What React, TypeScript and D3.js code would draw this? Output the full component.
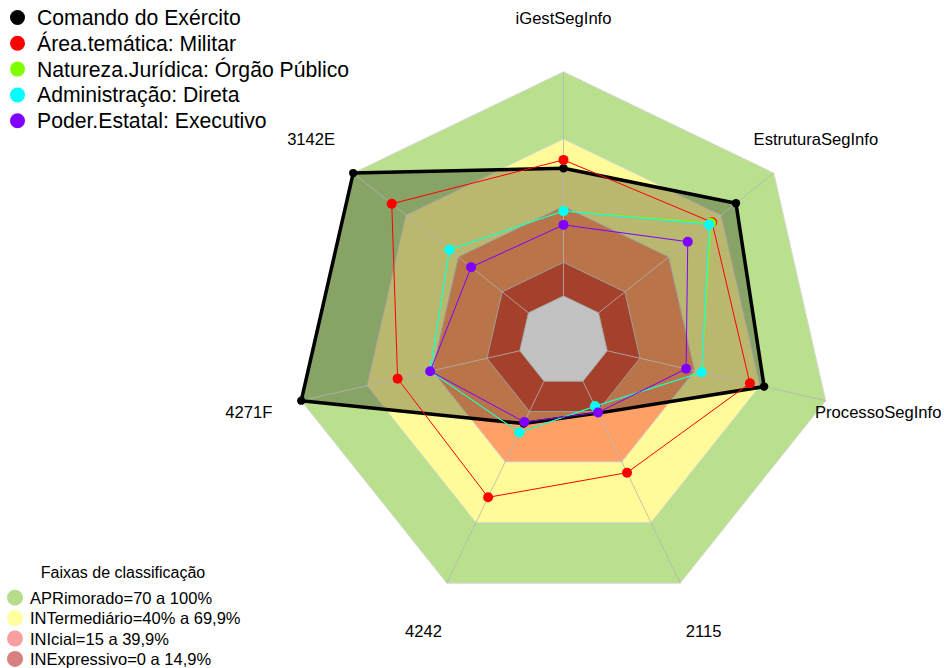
import React from 'react';
import * as d3 from 'd3';

// ---------- data ----------
const categories = ['iGestSegInfo', 'EstruturaSegInfo', 'ProcessoSegInfo', '2115', '4242', '4271F', '3142E'];

const seriesNames = [
  'Comando do Exército',
  'Área.temática: Militar',
  'Natureza.Jurídica: Órgão Público',
  'Administração: Direta',
  'Poder.Estatal: Executivo',
];
const seriesColors = ['#000000', '#FF0000', '#7FFF00', '#00FFFF', '#7F00FF'];

const comandoExercito = [57.0, 78.4, 71.8, 15.8, 21.0, 100, 100];
const areaMilitar = [60.7, 64.8, 65.3, 45.3, 57.5, 55.9, 78.0];
const orgaoPublico = [37.9, 64.2, 43.2, 12.4, 25.4, 41.0, 45.1];
const adminDireta = [37.9, 63.1, 43.2, 12.4, 25.4, 41.0, 45.1];
const poderExecutivo = [31.7, 50.9, 36.1, 15.5, 20.2, 41.0, 32.7];

const bandValues = [100, 70, 40, 15];
const bandColors = ['#B9E08D', '#FFFB98', '#FFA066', '#E2583C'];
const bandLabels = ['APRimorado=70 a 100%', 'INTermediário=40% a 69,9%', 'INIcial=15 a 39,9%', 'INExpressivo=0 a 14,9%'];
const bandLegendColors = ['#B5DD8A', '#FFFFA0', '#F7A0A0', '#D88080'];
const bandLegendTitle = 'Faixas de classificação';

// ---------- layout ----------
const W = 944;
const H = 668;
const cx = 563.5;
const cy = 340.8;
const R = 269;
const seg = 5;
const FONT = "'Liberation Sans', Arial, sans-serif";

const rScale = d3.scaleLinear().domain([0, 100]).range([R / (seg + 1), R]);
const angle = (i: number) => (i * 2 * Math.PI) / categories.length;
const px = (i: number, r: number) => cx + r * Math.sin(angle(i));
const py = (i: number, r: number) => cy - r * Math.cos(angle(i));

const lineGen = d3
  .line<number>()
  .x((v, i) => px(i, rScale(v)))
  .y((v, i) => py(i, rScale(v)))
  .curve(d3.curveLinearClosed);

const ringPath = (r: number) =>
  d3
    .line<number>()
    .x((_, i) => px(i, r))
    .y((_, i) => py(i, r))
    .curve(d3.curveLinearClosed)(categories.map(() => 0)) as string;

export default function App() {
  React.useEffect(() => {
    document.body.style.margin = '0';
  }, []);

  const allSeries = [comandoExercito, areaMilitar, orgaoPublico, adminDireta, poderExecutivo];

  return (
    <svg width={W} height={H} style={{ display: 'block', position: 'absolute', left: 0, top: 0 }} fontFamily={FONT}>
      <rect x={0} y={0} width={W} height={H} fill="#FFFFFF" />
      {/* bands */}
      {bandValues.map((b, k) => (
        <path
          key={'band' + k}
          d={lineGen(categories.map(() => b)) as string}
          fill={bandColors[k]}
          stroke="#D8D8D8"
          strokeWidth={1}
        />
      ))}
      {/* first series fill overlay */}
      <path d={lineGen(comandoExercito) as string} fill="rgba(0,0,0,0.27)" stroke="none" />
      {/* center */}
      <path d={ringPath(rScale(0))} fill="#C2C2C2" stroke="#A8A8A8" strokeWidth={1} />
      {/* radial axes */}
      {categories.map((c, i) => (
        <line
          key={'ax' + i}
          x1={px(i, rScale(0))}
          y1={py(i, rScale(0))}
          x2={px(i, R)}
          y2={py(i, R)}
          stroke="#B4B4B4"
          strokeOpacity={0.8}
          strokeWidth={1}
        />
      ))}
      {/* series */}
      {allSeries.map((s, k) => (
        <g key={'s' + k}>
          <path
            d={lineGen(s) as string}
            fill="none"
            stroke={seriesColors[k]}
            strokeWidth={k === 0 ? 3.5 : 1}
            strokeLinejoin="round"
          />
          {s.map((v, i) => (
            <circle
              key={i}
              cx={px(i, rScale(v))}
              cy={py(i, rScale(v))}
              r={k === 0 ? 4.2 : 5}
              fill={seriesColors[k]}
            />
          ))}
        </g>
      ))}
      {/* axis labels */}
      {categories.map((c, i) => (
        <text
          key={'lab' + i}
          x={px(i, R * 1.2)}
          y={py(i, R * 1.2)}
          textAnchor="middle"
          dominantBaseline="central"
          fontSize={16.6}
          fill="#000"
        >
          {c}
        </text>
      ))}
      {/* series legend */}
      {seriesNames.map((n, k) => (
        <g key={'leg' + k}>
          <circle cx={17.5} cy={17.5 + k * 25.8} r={7.5} fill={seriesColors[k]} />
          <text x={37} y={17.5 + k * 25.8} dominantBaseline="central" fontSize={21.2} fill="#000">
            {n}
          </text>
        </g>
      ))}
      {/* band legend */}
      <text x={123} y={572} textAnchor="middle" dominantBaseline="central" fontSize={16} fill="#000">
        {bandLegendTitle}
      </text>
      {bandLabels.map((l, k) => (
        <g key={'bl' + k}>
          <circle cx={15} cy={597.7 + k * 20.4} r={8} fill={bandLegendColors[k]} />
          <text x={30} y={597.7 + k * 20.4} dominantBaseline="central" fontSize={16.5} fill="#000">
            {l}
          </text>
        </g>
      ))}
    </svg>
  );
}
